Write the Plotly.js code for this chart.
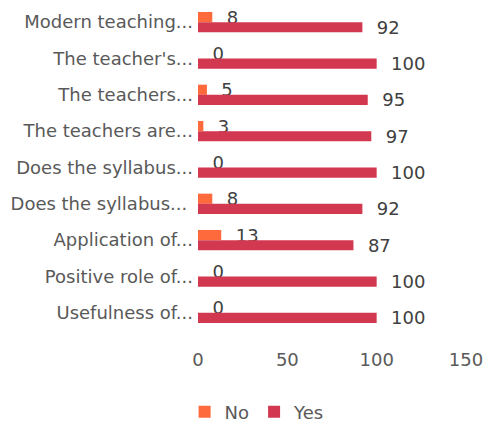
<!DOCTYPE html>
<html><head><meta charset="utf-8">
<script src="https://cdn.plot.ly/plotly-3.0.1.min.js"></script>
<style>html,body{margin:0;padding:0;background:#fff}#chart{width:484px;height:424px}</style>
</head><body><div id="chart"></div>
<script>
const categories = ["Modern teaching...", "The teacher's...", "The teachers...", "The teachers are...", "Does the syllabus...", "Does the syllabus... ", "Application of...", "Positive role of...", "Usefulness of..."];
const noValues = [8, 0, 5, 3, 0, 8, 13, 0, 0];
const yesValues = [92, 100, 95, 97, 100, 92, 87, 100, 100];
const xTicks = [0, 50, 100, 150];

const font = "'DejaVu Sans', sans-serif";
const traces = [
  {type:'bar', orientation:'h', name:'No', y:categories, x:noValues, texttemplate:'\u00a0\u00a0%{x}',
   textposition:'outside', constraintext:'none', cliponaxis:false, marker:{color:'#FF6A3D'},
   textfont:{size:18, color:'#404040', family:font}},
  {type:'bar', orientation:'h', name:'Yes', y:categories, x:yesValues, texttemplate:'\u00a0\u00a0%{x}',
   textposition:'outside', constraintext:'none', cliponaxis:false, marker:{color:'#D2384F'},
   textfont:{size:18, color:'#404040', family:font}}
];
const layout = {
  width:484, height:424,
  margin:{l:198, r:18, t:4, b:93},
  paper_bgcolor:'#fff', plot_bgcolor:'#fff',
  barmode:'group', bargap:0.44, bargroupgap:0,
  font:{family:font, color:'#595959', size:18},
  xaxis:{range:[0,150], tickvals:xTicks, showgrid:false, zeroline:false, showline:false,
         ticks:'', ticklabelstandoff:16, tickfont:{size:18, color:'#595959'}},
  yaxis:{type:'category', autorange:'reversed', showgrid:false, zeroline:false, showline:false,
         ticks:'', ticklabelstandoff:4, tickfont:{size:18, color:'#595959'}},
  showlegend:true,
  legend:{orientation:'h', x:-0.05, xanchor:'left', xref:'paper', yref:'container', y:0.028, yanchor:'middle',
          font:{size:18, color:'#595959'}, itemwidth:30, traceorder:'normal'}
};
Plotly.newPlot('chart', traces, layout, {displayModeBar:false, staticPlot:true});
</script></body></html>
